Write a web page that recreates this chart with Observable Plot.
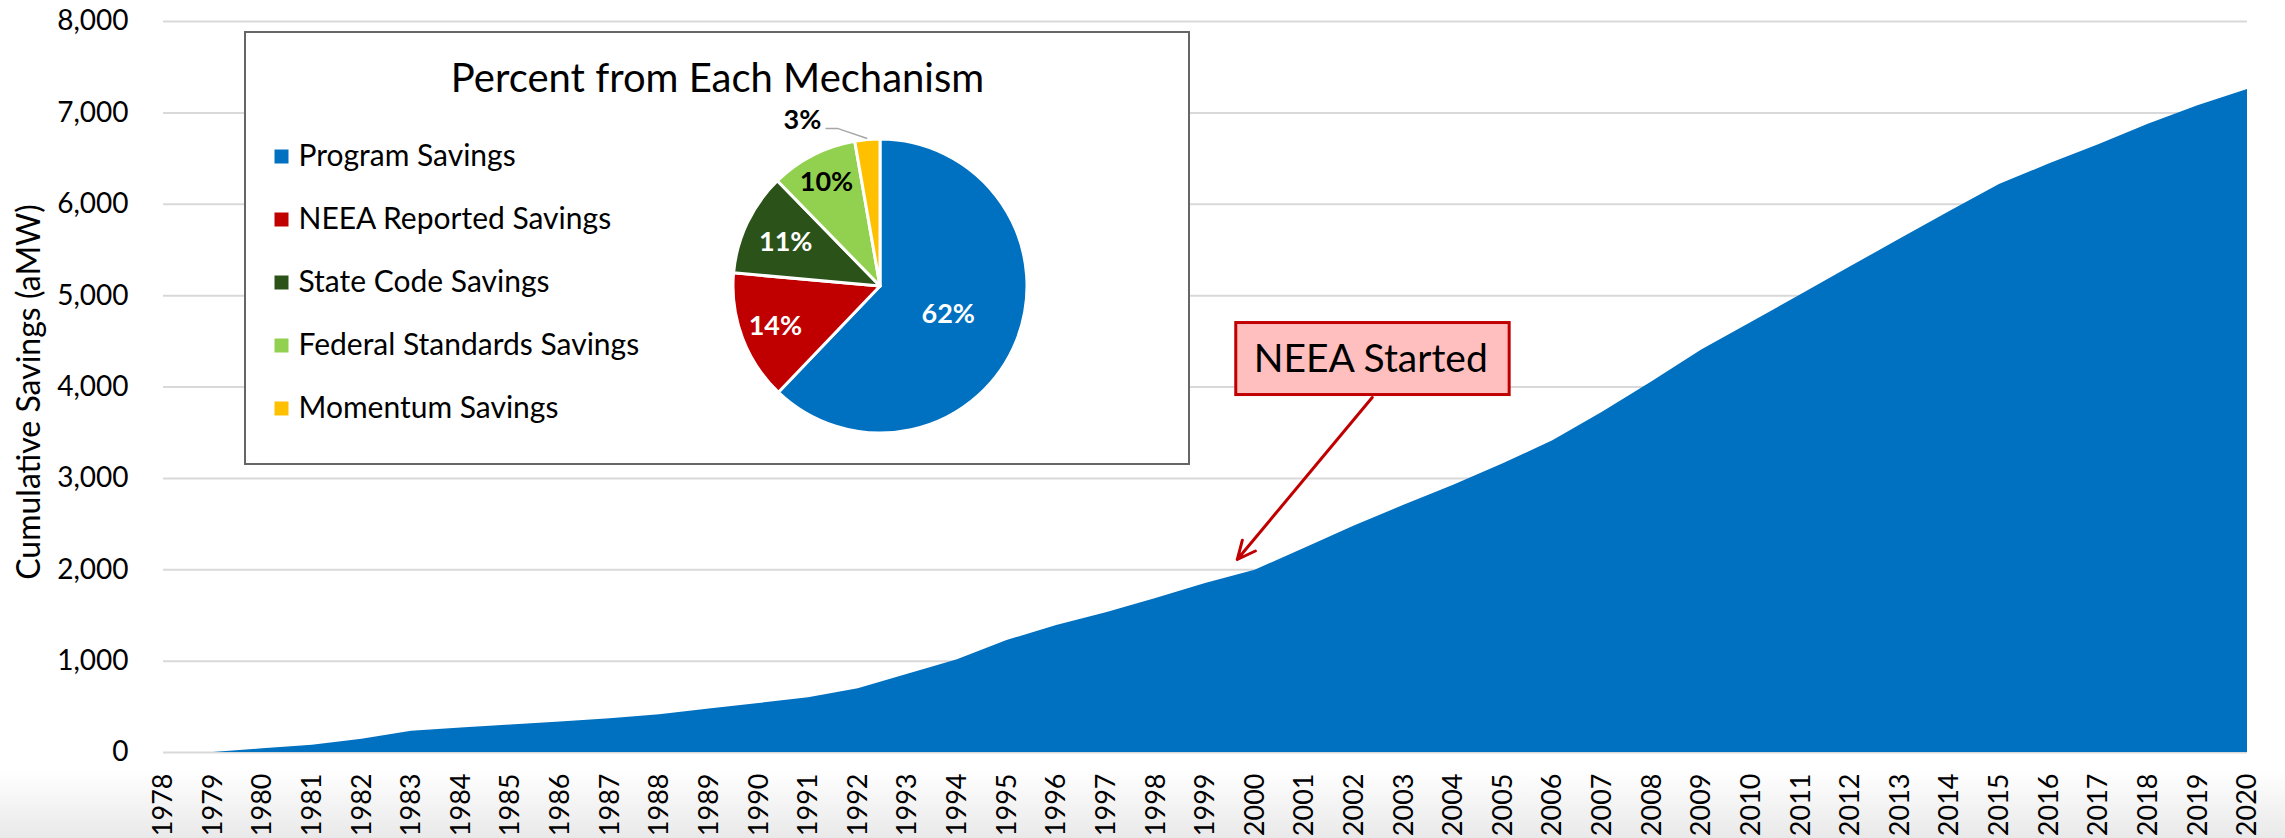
<!DOCTYPE html>
<html>
<head>
<meta charset="utf-8">
<script src="https://cdn.jsdelivr.net/npm/d3@7"></script>
<script src="https://cdn.jsdelivr.net/npm/@observablehq/plot@0.6"></script>
<style>
  html, body { margin: 0; padding: 0; }
  body { width: 2285px; height: 838px; overflow: hidden; font-family: Lato, sans-serif;
         background: linear-gradient(to bottom, #ffffff 0px, #ffffff 770px, #e9e9e9 838px); }
  #wrap { position: relative; width: 2285px; height: 838px; }
  #main { position: absolute; left: 0; top: 0; }
  #inset { position: absolute; left: 244px; top: 31px; width: 946px; height: 434px;
           border: 2px solid #666666; box-sizing: border-box; background: #ffffff; }
</style>
</head>
<body>
<div id="wrap"><div id="main"></div><div id="inset"></div></div>
<script>
// ---- data ----
const years = [1978,1979,1980,1981,1982,1983,1984,1985,1986,1987,1988,1989,1990,1991,1992,1993,1994,1995,1996,1997,1998,1999,2000,2001,2002,2003,2004,2005,2006,2007,2008,2009,2010,2011,2012,2013,2014,2015,2016,2017,2018,2019,2020];
const savings = [0,0,40,80,145,233,267,301,335,369,412,476,536,598,697,855,1014,1225,1390,1530,1685,1850,1995,2235,2480,2705,2925,3160,3412,3725,4058,4405,4705,5010,5315,5620,5920,6215,6440,6650,6875,7078,7255];
const yTicks = [0,1000,2000,3000,4000,5000,6000,7000,8000];
const yTitle = "Cumulative Savings (aMW)";

const mechanisms = ["Program Savings","NEEA Reported Savings","State Code Savings","Federal Standards Savings","Momentum Savings"];
const shares = [62.14,14.29,11.27,9.55,2.75];
const mechColors = ["#0070C0","#C00000","#2B5219","#92D050","#FFC000"];
const insetTitle = "Percent from Each Mechanism";

// annotation (data coordinates)
const noteLabel = [{year: 2002.33, value: 4306, text: "NEEA Started"}];
const noteBox = [{x1: 1999.62, x2: 2005.13, y1: 3912, y2: 4700}];
const noteArrow = [{x1: 2002.36, y1: 3885, x2: 1999.64, y2: 2112}];

// ---- main chart ----
const series = years.map((y, i) => ({year: y, value: savings[i]}));
const font = "Lato, sans-serif";

const main = Plot.plot({
  width: 2285, height: 838,
  marginLeft: 163, marginRight: 38, marginTop: 21, marginBottom: 86,
  style: {background: "transparent", fontFamily: font, color: "#000"},
  x: {type: "linear", domain: [1978, 2020]},
  y: {domain: [0, 8000]},
  marks: [
    Plot.gridY(yTicks, {stroke: "#d9d9d9", strokeOpacity: 1, strokeWidth: 2}),
    Plot.areaY(series, {x: "year", y: "value", fill: "#0070C0"}),
    Plot.axisY(yTicks, {tickSize: 0, tickPadding: 35, tickFormat: d3.format(","), fontSize: 28, label: null, fill: "#000"}),
    Plot.axisX(years, {tickSize: 0, tickPadding: 21, tickRotate: -90, tickFormat: d => String(d), fontSize: 27, label: null, fill: "#000"}),
    Plot.text([yTitle], {frameAnchor: "left", textAnchor: "middle", lineAnchor: "middle", dx: -134, dy: 5, rotate: -90, fontSize: 32, fill: "#000"}),
    Plot.rect(noteBox, {x1: "x1", x2: "x2", y1: "y1", y2: "y2", fill: "#FFBFBF", stroke: "#C00000", strokeWidth: 3}),
    Plot.text(noteLabel, {x: "year", y: "value", text: "text", fontSize: 39, fill: "#000"}),
    Plot.arrow(noteArrow, {x1: "x1", y1: "y1", x2: "x2", y2: "y2", stroke: "#C00000", strokeWidth: 3, headLength: 10, headAngle: 50})
  ]
});
document.getElementById("main").appendChild(main);

// ---- inset: legend + pie ----
const mech = mechanisms.map((name, i) => ({name, share: shares[i]}));
const pieLayout = {cx: 634, cy: 253, r: 147};
const labelPlace = [
  {f: 0.50, da: 0, color: "#fff"},
  {f: 0.76, da: 0, color: "#fff"},
  {f: 0.71, da: 0, color: "#fff"},
  {f: 0.80, da: 0, color: "#000"},
  {f: 1.25, da: -20, color: "#000", leader: true}
];

function pieMark(index, scales) {
  const color = scales.color;
  const g = d3.create("svg:g").attr("transform", `translate(${pieLayout.cx},${pieLayout.cy})`);
  const arcs = d3.pie().sort(null).value(d => d.share)(mech);
  const arc = d3.arc().innerRadius(0).outerRadius(pieLayout.r);
  g.selectAll("path.slice").data(arcs).join("path")
    .attr("class", "slice")
    .attr("d", arc)
    .attr("fill", d => color(d.data.name))
    .attr("stroke", "#fff").attr("stroke-width", 3).attr("stroke-linejoin", "round");
  arcs.forEach((a, i) => {
    const p = labelPlace[i];
    const mid = (a.startAngle + a.endAngle) / 2 + p.da * Math.PI / 180;
    const rr = pieLayout.r * p.f;
    const lx = Math.sin(mid) * rr, ly = -Math.cos(mid) * rr;
    if (p.leader) {
      const m0 = (a.startAngle + a.endAngle) / 2;
      const ex = Math.sin(m0) * (pieLayout.r + 1), ey = -Math.cos(m0) * (pieLayout.r + 1);
      g.append("path")
        .attr("d", `M${ex},${ey}L${lx + 35},${ly + 9}L${lx + 23},${ly + 9}`)
        .attr("fill", "none").attr("stroke", "#a6a6a6").attr("stroke-width", 1.5);
    }
    g.append("text")
      .attr("x", lx).attr("y", ly).attr("dy", "0.35em")
      .attr("text-anchor", "middle")
      .attr("font-family", font).attr("font-weight", "bold").attr("font-size", 27)
      .attr("fill", p.color)
      .text(Math.round(a.data.share) + "%");
  });
  return g.node();
}

const inset = Plot.plot({
  width: 942, height: 430, margin: 0,
  style: {background: "#fff", fontFamily: font, color: "#000"},
  y: {type: "point", domain: mechanisms, range: [122, 376], padding: 0, axis: null},
  color: {domain: mechanisms, range: mechColors},
  marks: [
    Plot.text([insetTitle], {frameAnchor: "top", lineAnchor: "middle", dy: 46, fontSize: 40, fill: "#000"}),
    Plot.dot(mech, {y: "name", fill: "name", symbol: "square", r: 7.9, frameAnchor: "left", dx: 35}),
    Plot.text(mech, {y: "name", text: "name", frameAnchor: "left", dx: 52, textAnchor: "start", fontSize: 30, fill: "#000"}),
    pieMark
  ]
});
document.getElementById("inset").appendChild(inset);
</script>
</body>
</html>
